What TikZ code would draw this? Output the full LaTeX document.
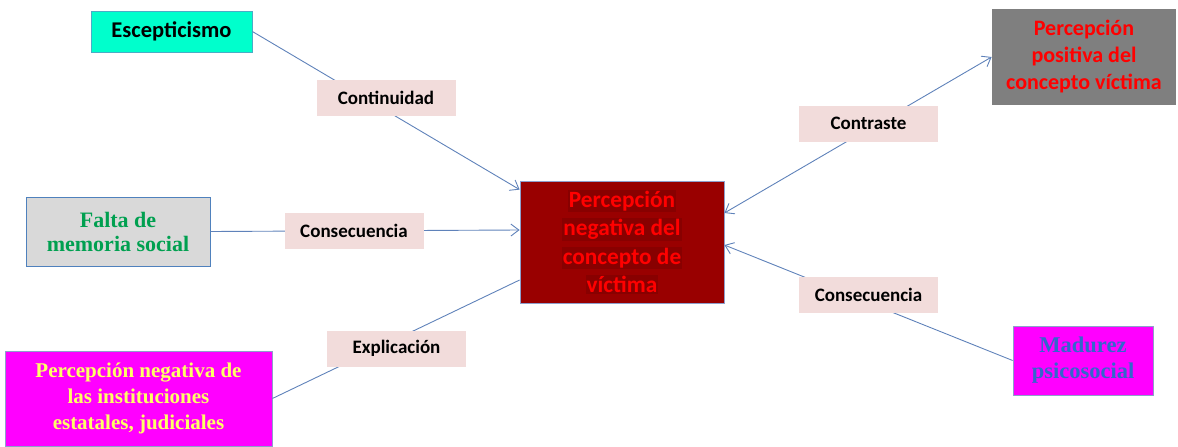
\documentclass[tikz,border=0pt]{standalone}
\usepackage{fontspec}
\setmainfont{Carlito}
\newfontfamily\tms{Liberation Serif}
\usetikzlibrary{arrows.meta,positioning}
\definecolor{linkblue}{HTML}{5F82BA}
\definecolor{labfill}{HTML}{F2DCDB}
\definecolor{cyanfill}{HTML}{00FFCC}
\definecolor{cyanborder}{HTML}{4BACC6}
\definecolor{darkred}{HTML}{990000}
\definecolor{hlred}{HTML}{880000}
\definecolor{boxborder}{HTML}{8E9FCC}
\definecolor{grayfill}{HTML}{7F7F7F}
\definecolor{lightgray}{HTML}{D9D9D9}
\definecolor{fallblue}{HTML}{4F81BD}
\definecolor{greentext}{HTML}{00A050}
\definecolor{magentafill}{HTML}{FF00FF}
\definecolor{yellowtext}{HTML}{FFFF66}
\definecolor{madblue}{HTML}{3366CC}
\definecolor{redtext}{HTML}{FF0000}
\newcommand{\hlline}[1]{{\setlength{\fboxsep}{1pt}\colorbox{hlred}{#1}}}
\tikzset{
  box/.style={draw, line width=0.8pt, align=center, inner sep=2pt},
  lab/.style={fill=labfill, font=\bfseries\fontsize{19}{22}\selectfont, minimum width=139pt, minimum height=36pt, inner sep=0pt},
  link/.style={draw=linkblue, line width=0.9pt},
  tip/.style={-{Straight Barb[length=8pt,width=12pt,line width=0.9pt]}},
  both/.style={{Straight Barb[length=8pt,width=12pt,line width=0.9pt]}-{Straight Barb[length=8pt,width=12pt,line width=0.9pt]}}
}
\begin{document}
\begin{tikzpicture}[x=1pt,y=-1pt]
\useasboundingbox (0,0) rectangle (1178,447);
% main boxes
\node[box, draw=cyanborder, fill=cyanfill, minimum width=161pt, minimum height=41pt, font=\bfseries\fontsize{22.5}{26}\selectfont] (esc) at (171.5,31.5) {Escepticismo};
\node[box, draw=boxborder, fill=darkred, minimum width=204pt, minimum height=122pt, text=redtext, font=\bfseries\fontsize{23.3}{28.5}\selectfont] (central) at (622,242)
  {\hlline{Percepción}\\\hlline{negativa del}\\\hlline{concepto de}\\\hlline{víctima}};
\node[box, draw=none, fill=grayfill, minimum width=184pt, minimum height=96pt, text=redtext, font=\bfseries\fontsize{22}{27}\selectfont] (pos) at (1084,57)
  {Percepción\\positiva del\\concepto víctima};
\node[box, draw=fallblue, fill=lightgray, minimum width=184pt, minimum height=69pt, text=greentext, font=\tms\bfseries\fontsize{22}{24}\selectfont] (falta) at (118,231.5)
  {Falta de\\memoria social};
\node[box, draw=boxborder, fill=magentafill, minimum width=267pt, minimum height=95pt, text=yellowtext, font=\tms\bfseries\fontsize{21}{26}\selectfont] (neg) at (138.5,398.5)
  {Percepción negativa de\\las instituciones\\estatales, judiciales};
\node[box, draw=boxborder, fill=magentafill, minimum width=140pt, minimum height=69pt, text=madblue, font=\tms\bfseries\fontsize{22.5}{26}\selectfont] (mad) at (1083,360.5)
  {Madurez\\psicosocial};
% connectors
\draw[link, tip] (esc.east) -- ([yshift=-9pt]central.north west);
\draw[link, tip] (falta.east) -- ([yshift=12pt]central.west);
\draw[link] (neg.east) -- ([yshift=-38pt]central.west);
\draw[link, both] ([yshift=29pt]central.east) -- (pos.west);
\draw[link, tip] (mad.west) -- ([yshift=-3pt]central.east);
% labels
\node[lab] (cont) at (386,98) {Continuidad};
\node[lab] (cons1) at (354,230.5) {Consecuencia};
\node[lab] (expl) at (396.5,348.5) {Explicación};
\node[lab] (contr) at (868.5,123.5) {Contraste};
\node[lab] (cons2) at (868.5,295) {Consecuencia};
\end{tikzpicture}
\end{document}
